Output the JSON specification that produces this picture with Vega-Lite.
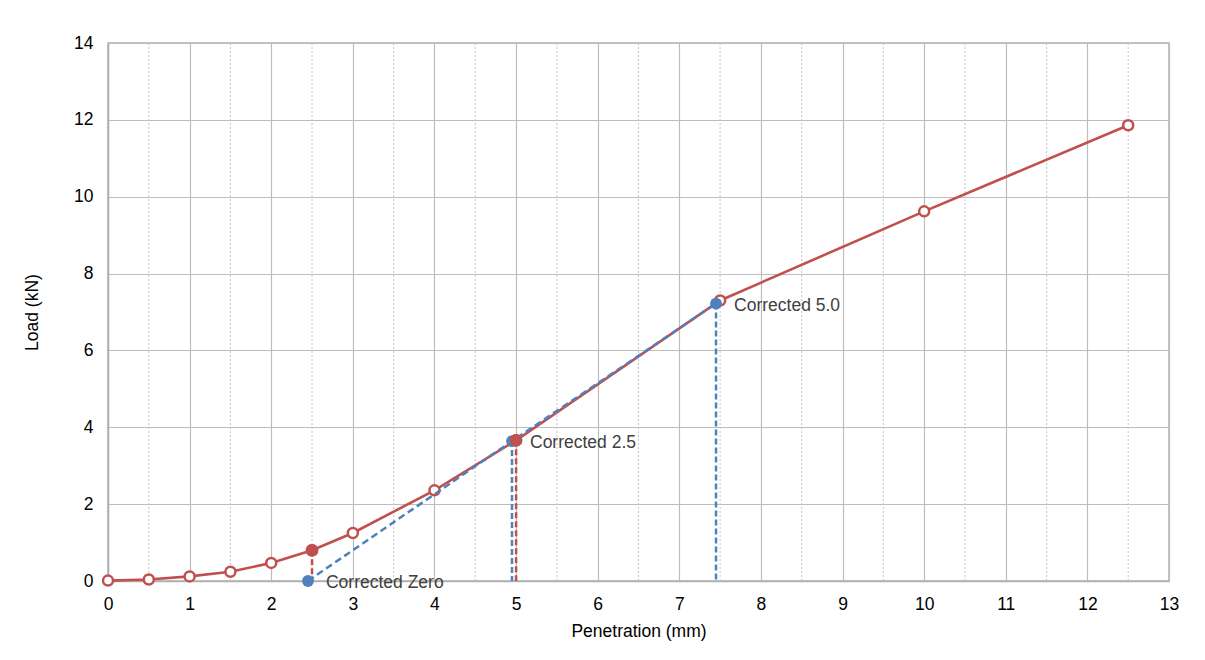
{
  "$schema": "https://vega.github.io/schema/vega-lite/v6.json",
  "width": 1061,
  "height": 538,
  "autosize": {"type": "none"},
  "padding": {"left": 108, "top": 43, "right": 36, "bottom": 79},
  "background": "white",
  "config": {
    "font": "Liberation Sans",
    "view": {"stroke": "#b0b0b0", "strokeWidth": 1.5},
    "axis": {
      "grid": true,
      "gridColor": "#bdbdbd",
      "gridWidth": 1.2,
      "ticks": false,
      "labelFlush": false,
      "domainColor": "#b0b0b0",
      "domainWidth": 1.5,
      "labelFont": "Liberation Sans",
      "labelFontSize": 17.5,
      "labelColor": "#000000",
      "titleFont": "Liberation Sans",
      "titleFontSize": 17.5,
      "titleFontWeight": "normal",
      "titleColor": "#000000"
    }
  },
  "datasets": {
    "minor": [
      {"x": 0.5}, {"x": 1.5}, {"x": 2.5}, {"x": 3.5}, {"x": 4.5}, {"x": 5.5}, {"x": 6.5},
      {"x": 7.5}, {"x": 8.5}, {"x": 9.5}, {"x": 10.5}, {"x": 11.5}, {"x": 12.5}
    ],
    "main": [
      {"x": 0, "y": 0.01},
      {"x": 0.5, "y": 0.04},
      {"x": 1, "y": 0.12},
      {"x": 1.5, "y": 0.24},
      {"x": 2, "y": 0.47},
      {"x": 2.5, "y": 0.8},
      {"x": 3, "y": 1.25},
      {"x": 4, "y": 2.36},
      {"x": 5, "y": 3.66},
      {"x": 7.5, "y": 7.3},
      {"x": 10, "y": 9.62},
      {"x": 12.5, "y": 11.86}
    ],
    "std": [
      {"x": 2.5, "y": 0.8},
      {"x": 5, "y": 3.66}
    ],
    "corrected": [
      {"x": 2.45, "y": 0, "label": "Corrected Zero"},
      {"x": 4.95, "y": 3.64, "label": "Corrected 2.5"},
      {"x": 7.45, "y": 7.22, "label": "Corrected 5.0"}
    ],
    "blueDrops": [
      {"x": 4.95, "y": 3.64},
      {"x": 7.45, "y": 7.22}
    ]
  },
  "layer": [
    {
      "data": {"name": "minor"},
      "mark": {"type": "rule", "color": "#c4c4c4", "strokeWidth": 1, "strokeDash": [2, 2]},
      "encoding": {
        "x": {
          "field": "x", "type": "quantitative",
          "scale": {"domain": [0, 13], "nice": false, "zero": false},
          "axis": {"values": [0,1,2,3,4,5,6,7,8,9,10,11,12,13], "format": "d", "labelPadding": 14, "titlePadding": 10},
          "title": "Penetration (mm)"
        }
      }
    },
    {
      "data": {"name": "main"},
      "mark": {"type": "line", "color": "#c0504d", "strokeWidth": 2.6},
      "encoding": {
        "x": {"field": "x", "type": "quantitative", "scale": {"domain": [0, 13], "nice": false}, "title": "Penetration (mm)"},
        "y": {
          "field": "y", "type": "quantitative",
          "scale": {"domain": [0, 14], "nice": false},
          "axis": {"values": [0,2,4,6,8,10,12,14], "format": "d", "labelPadding": 15, "titlePadding": 32},
          "title": "Load (kN)"
        }
      }
    },
    {
      "data": {"name": "main"},
      "mark": {"type": "point", "shape": "circle", "filled": true, "fill": "white", "stroke": "#c0504d", "strokeWidth": 2.5, "size": 100, "opacity": 1},
      "encoding": {
        "x": {"field": "x", "type": "quantitative", "title": "Penetration (mm)"},
        "y": {"field": "y", "type": "quantitative", "title": "Load (kN)"}
      }
    },
    {
      "data": {"name": "std"},
      "mark": {"type": "rule", "color": "#c0504d", "strokeWidth": 2.5, "strokeDash": [6, 3]},
      "encoding": {
        "x": {"field": "x", "type": "quantitative", "title": "Penetration (mm)"},
        "y": {"field": "y", "type": "quantitative", "title": "Load (kN)"},
        "y2": {"datum": 0}
      }
    },
    {
      "data": {"name": "blueDrops"},
      "mark": {"type": "rule", "color": "#4f81bd", "strokeWidth": 2.5, "strokeDash": [6, 3]},
      "encoding": {
        "x": {"field": "x", "type": "quantitative", "title": "Penetration (mm)"},
        "y": {"field": "y", "type": "quantitative", "title": "Load (kN)"},
        "y2": {"datum": 0}
      }
    },
    {
      "data": {"name": "corrected"},
      "mark": {"type": "line", "color": "#4f81bd", "strokeWidth": 2.5, "strokeDash": [7, 4]},
      "encoding": {
        "x": {"field": "x", "type": "quantitative", "title": "Penetration (mm)"},
        "y": {"field": "y", "type": "quantitative", "title": "Load (kN)"}
      }
    },
    {
      "data": {"name": "corrected"},
      "mark": {"type": "point", "shape": "circle", "filled": true, "color": "#4f81bd", "size": 140, "opacity": 1},
      "encoding": {
        "x": {"field": "x", "type": "quantitative", "title": "Penetration (mm)"},
        "y": {"field": "y", "type": "quantitative", "title": "Load (kN)"}
      }
    },
    {
      "data": {"name": "std"},
      "mark": {"type": "point", "shape": "circle", "filled": true, "color": "#c0504d", "size": 160, "opacity": 1},
      "encoding": {
        "x": {"field": "x", "type": "quantitative", "title": "Penetration (mm)"},
        "y": {"field": "y", "type": "quantitative", "title": "Load (kN)"}
      }
    },
    {
      "data": {"name": "corrected"},
      "mark": {"type": "text", "align": "left", "baseline": "middle", "dx": 18, "dy": 2, "fontSize": 17.5, "color": "#404040", "font": "Liberation Sans"},
      "encoding": {
        "x": {"field": "x", "type": "quantitative", "title": "Penetration (mm)"},
        "y": {"field": "y", "type": "quantitative", "title": "Load (kN)"},
        "text": {"field": "label"}
      }
    }
  ]
}
